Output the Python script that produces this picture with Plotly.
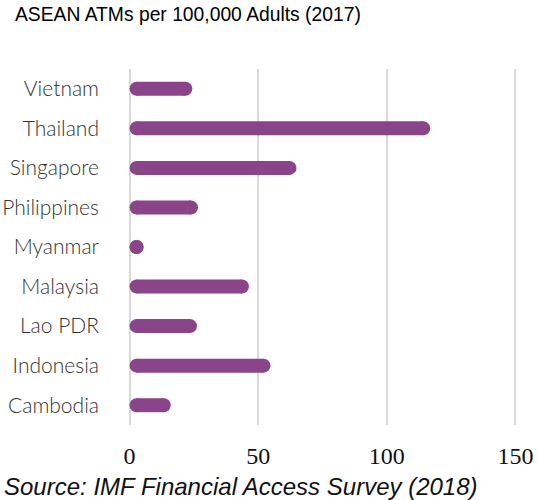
import plotly.graph_objects as go

# ATMs per 100,000 adults, 2017
countries = ["Vietnam", "Thailand", "Singapore", "Philippines", "Myanmar",
             "Malaysia", "Lao PDR", "Indonesia", "Cambodia"]
atms = [24.4, 116.9, 64.9, 26.6, 4.9, 46.4, 26.2, 54.8, 16.0]
tick_vals = [0, 50, 100, 150]
tick_text = ["0", "50", "100", "150"]

W, H = 537, 500
ML, MR, MT, MB = 127.4, 18.7, 69, 74.5
X_RANGE = [-1, 151]
BAR_PX = 14  # bar thickness in pixels
PURPLE = "#8a4489"

plot_w = W - ML - MR
plot_h = H - MT - MB
px_per_unit = plot_w / (X_RANGE[1] - X_RANGE[0])
cap = (BAR_PX / 2) / px_per_unit  # radius of the rounded ends, in data units

n = len(countries)
band_px = plot_h / n

starts = [cap] * n
ends = [max(v - cap, cap) for v in atms]

fig = go.Figure()

# Straight middle section of each pill-shaped bar
fig.add_trace(go.Bar(
    y=countries,
    x=[e - s for s, e in zip(starts, ends)],
    base=starts,
    orientation="h",
    width=BAR_PX / band_px,
    marker=dict(color=PURPLE, line=dict(width=0)),
    hoverinfo="skip",
))

# Round caps at both ends
fig.add_trace(go.Scatter(
    y=countries + countries,
    x=starts + ends,
    mode="markers",
    marker=dict(color=PURPLE, size=BAR_PX, line=dict(width=0)),
    hoverinfo="skip",
))

fig.update_layout(
    width=W, height=H,
    margin=dict(l=ML, r=MR, t=MT, b=MB, pad=0, autoexpand=False),
    paper_bgcolor="white",
    plot_bgcolor="white",
    showlegend=False,
    title=dict(
        text="ASEAN ATMs per 100,000 Adults (2017)",
        x=15 / W, xanchor="left", xref="container",
        y=1 - 14 / H, yanchor="middle", yref="container",
        font=dict(family="Liberation Sans, Arial", size=19.3, color="#000"),
    ),
    xaxis=dict(
        range=X_RANGE,
        tickvals=tick_vals,
        ticktext=tick_text,
        showgrid=True,
        gridcolor="#d9d9d9",
        gridwidth=2,
        zeroline=False,
        showline=False,
        ticks="",
        automargin=False,
        ticklabelstandoff=14,
        tickfont=dict(family="Liberation Serif, Times New Roman", size=24, color="#111"),
        fixedrange=True,
    ),
    yaxis=dict(
        categoryorder="array",
        categoryarray=countries[::-1],
        range=[-0.5, n - 0.5],
        showgrid=False,
        zeroline=False,
        showline=False,
        ticks="",
        automargin=False,
        ticklabelstandoff=27,
        tickfont=dict(family="Lato", size=21, color="#333", weight=300),
        fixedrange=True,
    ),
    annotations=[dict(
        text="<i>Source: IMF Financial Access Survey (2018)</i>",
        xref="paper", yref="paper",
        x=(2 - ML) / plot_w, xanchor="left",
        y=((H - MB) - 487) / plot_h, yanchor="middle",
        showarrow=False,
        font=dict(family="Liberation Sans, Arial", size=24, color="#111"),
    )],
)

fig.write_html("out.html")
